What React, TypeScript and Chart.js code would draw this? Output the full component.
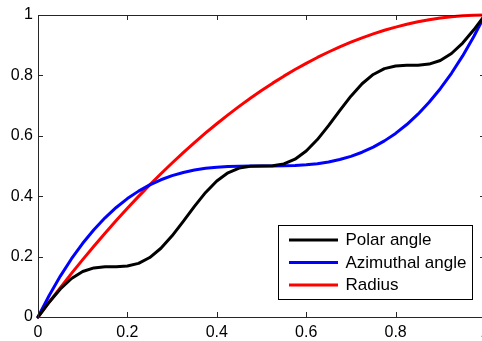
import React, { useEffect, useRef } from "react";
import { Chart, registerables } from "chart.js";

Chart.register(...registerables);

const xValues = [
  0, 0.025, 0.05, 0.075, 0.1, 0.125, 0.15, 0.175, 0.2, 0.225, 0.25, 0.275, 0.3, 0.325, 0.35, 0.375, 0.4,
  0.425, 0.45, 0.475, 0.5, 0.525, 0.55, 0.575, 0.6, 0.625, 0.65, 0.675, 0.7, 0.725, 0.75, 0.775, 0.8,
  0.825, 0.85, 0.875, 0.9, 0.925, 0.95, 0.975, 1,
];

const polarAngle = [
  0, 0.0491, 0.0929, 0.1274, 0.1505, 0.1625, 0.1664, 0.1667, 0.1688, 0.1777, 0.1969, 0.2277, 0.2688,
  0.3167, 0.3664, 0.4125, 0.4505, 0.4774, 0.4929, 0.4991, 0.5, 0.5009, 0.5071, 0.5226, 0.5495, 0.5875,
  0.6336, 0.6833, 0.7312, 0.7723, 0.8031, 0.8223, 0.8312, 0.8333, 0.8336, 0.8375, 0.8495, 0.8726,
  0.9071, 0.9509, 1,
];

const azimuthalAngle = [
  0, 0.0713, 0.1355, 0.1929, 0.244, 0.2891, 0.3285, 0.3627, 0.392, 0.4168, 0.4375, 0.4544, 0.468,
  0.4786, 0.4865, 0.4922, 0.496, 0.4983, 0.4995, 0.4999, 0.5, 0.5001, 0.5005, 0.5017, 0.504, 0.5078,
  0.5135, 0.5214, 0.532, 0.5456, 0.5625, 0.5832, 0.608, 0.6373, 0.6715, 0.7109, 0.756, 0.8071, 0.8645,
  0.9287, 1,
];

const radius = [
  0, 0.0494, 0.0975, 0.1444, 0.19, 0.2344, 0.2775, 0.3194, 0.36, 0.3994, 0.4375, 0.4744, 0.51, 0.5444,
  0.5775, 0.6094, 0.64, 0.6694, 0.6975, 0.7244, 0.75, 0.7744, 0.7975, 0.8194, 0.84, 0.8594, 0.8775,
  0.8944, 0.91, 0.9244, 0.9375, 0.9494, 0.96, 0.9694, 0.9775, 0.9844, 0.99, 0.9944, 0.9975, 0.9994, 1,
];

const seriesLabels = ["Polar angle", "Azimuthal angle", "Radius"];
const seriesColors = ["#000000", "#0000ff", "#ff0000"];
const tickValues = [0, 0.2, 0.4, 0.6, 0.8, 1];

const FONT = "'Liberation Sans', Arial, Helvetica, sans-serif";
const FONT_SIZE = 16;
const LEGEND_FONT_SIZE = 17;

const fmt = (v: number) => {
  const r = Math.round(v * 10) / 10;
  return r === 0 ? "0" : r === 1 ? "1" : String(r);
};

const framePlugin = {
  id: "matlabFrame",
  afterDatasetsDraw(chart: any) {
    const { ctx, chartArea } = chart;
    const { left, right, top, bottom } = chartArea;
    const xs = chart.scales.x;
    const ys = chart.scales.y;
    ctx.save();
    ctx.strokeStyle = "#262626";
    ctx.lineWidth = 1;
    ctx.beginPath();
    ctx.rect(Math.round(left) + 0.5, Math.round(top) + 0.5, Math.round(right - left), Math.round(bottom - top));
    ctx.stroke();
    const tl = 5;
    ctx.beginPath();
    tickValues.forEach((v) => {
      const px = Math.round(xs.getPixelForValue(v)) + 0.5;
      ctx.moveTo(px, bottom);
      ctx.lineTo(px, bottom - tl);
      ctx.moveTo(px, top);
      ctx.lineTo(px, top + tl);
      const py = Math.round(ys.getPixelForValue(v)) + 0.5;
      ctx.moveTo(left, py);
      ctx.lineTo(left + tl, py);
      ctx.moveTo(right, py);
      ctx.lineTo(right - tl, py);
    });
    ctx.stroke();

    // legend box
    const bx = 278.5, by = 225.5, bw = 194, bh = 74;
    ctx.fillStyle = "#ffffff";
    ctx.fillRect(bx, by, bw, bh);
    ctx.strokeStyle = "#000000";
    ctx.strokeRect(bx, by, bw, bh);
    ctx.font = `${LEGEND_FONT_SIZE}px ${FONT}`;
    ctx.textBaseline = "middle";
    ctx.textAlign = "left";
    const rows = [240, 262.5, 285];
    chart.data.datasets.forEach((ds: any, i: number) => {
      ctx.strokeStyle = ds.borderColor;
      ctx.lineWidth = 3;
      ctx.beginPath();
      ctx.moveTo(289, rows[i]);
      ctx.lineTo(338, rows[i]);
      ctx.stroke();
      ctx.fillStyle = "#000000";
      ctx.fillText(ds.label, 345.5, rows[i] + 0.5);
    });
    ctx.restore();
  },
};

export default function App() {
  const ref = useRef<HTMLCanvasElement>(null);
  useEffect(() => {
    if (!ref.current) return;
    const chart = new Chart(ref.current, {
      type: "line",
      data: {
        datasets: [polarAngle, azimuthalAngle, radius].map((vals, i) => ({
          label: seriesLabels[i],
          data: xValues.map((x, j) => ({ x, y: vals[j] })),
          borderColor: seriesColors[i],
          backgroundColor: seriesColors[i],
          borderWidth: 3,
          pointRadius: 0,
          tension: 0,
          clip: false as any,
          borderJoinStyle: "round" as const,
          borderCapStyle: "round" as const,
        })),
      },
      options: {
        animation: false,
        responsive: false,
        events: [],
        layout: { padding: { top: 15, right: 5, left: 0, bottom: 0 } },
        plugins: { legend: { display: false }, tooltip: { enabled: false } },
        scales: {
          x: {
            type: "linear",
            min: 0,
            max: 1,
            afterFit: (s: any) => {
              s.height = 24;
              s.paddingLeft = 0;
              s.paddingRight = 0;
            },
            afterBuildTicks: (s: any) => {
              s.ticks = tickValues.map((v) => ({ value: v }));
            },
            grid: { display: false, drawTicks: false },
            border: { display: false },
            ticks: {
              padding: 6,
              color: "#000000",
              maxRotation: 0,
              autoSkip: false,
              font: { family: FONT, size: FONT_SIZE },
              callback: (v: any) => fmt(Number(v)),
            },
          },
          y: {
            type: "linear",
            min: 0,
            max: 1,
            afterFit: (s: any) => {
              s.width = 38;
              s.paddingTop = 0;
              s.paddingBottom = 0;
            },
            afterBuildTicks: (s: any) => {
              s.ticks = tickValues.map((v) => ({ value: v }));
            },
            grid: { display: false, drawTicks: false },
            border: { display: false },
            ticks: {
              padding: 5,
              color: "#000000",
              autoSkip: false,
              font: { family: FONT, size: FONT_SIZE },
              callback: (v: any) => fmt(Number(v)),
            },
          },
        },
      },
      plugins: [framePlugin],
    });
    return () => chart.destroy();
  }, []);
  return (
    <div style={{ position: "absolute", left: 0, top: 0, width: 482, height: 341, overflow: "hidden", background: "#fff" }}>
      <canvas ref={ref} width={490} height={341} style={{ width: 490, height: 341, display: "block" }} />
    </div>
  );
}
